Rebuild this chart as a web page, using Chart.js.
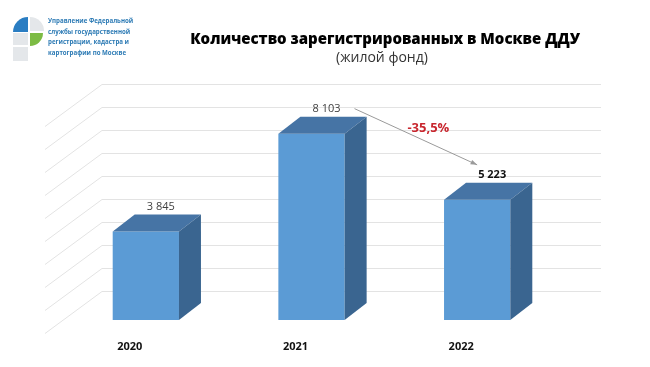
<!DOCTYPE html>
<html>
<head>
<meta charset="utf-8">
<script src="https://cdn.jsdelivr.net/npm/chart.js@4.4.0/dist/chart.umd.min.js"></script>
<style>
  html, body { margin: 0; padding: 0; background: #fff; }
  #wrap { width: 650px; height: 367px; position: relative; }
</style>
</head>
<body>
<div id="wrap"><canvas id="dduChart" width="650" height="367"></canvas></div>
<script>
// data
const years = ['2020', '2021', '2022'];
const contracts = [3845, 8103, 5223];
const gridValues = [1000, 2000, 3000, 4000, 5000, 6000, 7000, 8000, 9000, 10000];
const changeLabel = '-35,5%';

const titleText = 'Количество зарегистрированных в Москве ДДУ';
const subtitleText = '(жилой фонд)';
const logoLines = ['Управление Федеральной', 'службы государственной', 'регистрации, кадастра и', 'картографии по Москве'];

// depth of the 3d boxes
const DX = 22, DY = 17;

function fmt(n) {
    return String(n).replace(/\B(?=(\d{3})+(?!\d))/g, ' ');
}

// back wall grid + floor diagonals
const wallPlugin = {
    id: 'wall',
    beforeDatasetsDraw(chart) {
        const ctx = chart.ctx;
        const y = chart.scales.y;
        ctx.save();
        ctx.strokeStyle = '#e3e3e3';
        ctx.lineWidth = 1;
        gridValues.forEach(v => {
            const py = Math.round(y.getPixelForValue(v) - 6) + 0.5;
            ctx.beginPath();
            ctx.moveTo(102, py);
            ctx.lineTo(601, py);
            ctx.moveTo(102, py);
            ctx.lineTo(45, py + 42);
            ctx.stroke();
        });
        ctx.restore();
    }
};

// top and side faces of each bar, value labels, arrow
const boxPlugin = {
    id: 'box3d',
    afterDatasetsDraw(chart) {
        const ctx = chart.ctx;
        const meta = chart.getDatasetMeta(0);
        const labelPos = [];
        ctx.save();
        meta.data.forEach((bar, i) => {
            const L = bar.x - bar.width / 2;
            const R = bar.x + bar.width / 2;
            const T = bar.y;
            const B = bar.base;
            // top
            ctx.fillStyle = '#4674a5';
            ctx.beginPath();
            ctx.moveTo(L, T);
            ctx.lineTo(L + DX, T - DY);
            ctx.lineTo(R + DX, T - DY);
            ctx.lineTo(R, T);
            ctx.closePath();
            ctx.fill();
            // side
            ctx.fillStyle = '#3a6590';
            ctx.beginPath();
            ctx.moveTo(R, T);
            ctx.lineTo(R + DX, T - DY);
            ctx.lineTo(R + DX, B - DY);
            ctx.lineTo(R, B);
            ctx.closePath();
            ctx.fill();

            // value label
            const lx = bar.x + 15;
            const ly = T - DY - 8;
            labelPos.push([lx, ly]);
            const last = i === meta.data.length - 1;
            ctx.font = (last ? 'bold ' : '') + '11px "Open Sans"';
            ctx.fillStyle = last ? '#111' : '#404040';
            ctx.textAlign = 'center';
            ctx.textBaseline = 'middle';
            ctx.fillText(fmt(contracts[i]), lx, ly);
        });

        // arrow from 2021 to 2022
        const a = labelPos[1], b = labelPos[2];
        const x1 = a[0] + 28, y1 = a[1];
        const x2 = b[0] - 15, y2 = b[1] - 10;
        ctx.strokeStyle = '#9a9a9a';
        ctx.fillStyle = '#9a9a9a';
        ctx.lineWidth = 1;
        ctx.beginPath();
        ctx.moveTo(x1, y1);
        ctx.lineTo(x2, y2);
        ctx.stroke();
        const ang = Math.atan2(y2 - y1, x2 - x1);
        ctx.beginPath();
        ctx.moveTo(x2, y2);
        ctx.lineTo(x2 - 7 * Math.cos(ang - 0.35), y2 - 7 * Math.sin(ang - 0.35));
        ctx.lineTo(x2 - 7 * Math.cos(ang + 0.35), y2 - 7 * Math.sin(ang + 0.35));
        ctx.closePath();
        ctx.fill();

        ctx.font = 'bold 13px "Open Sans"';
        ctx.fillStyle = '#c8262e';
        ctx.textAlign = 'center';
        ctx.textBaseline = 'middle';
        ctx.fillText(changeLabel, (x1 + x2) / 2 + 12.5, (y1 + y2) / 2 - 8.5);
        ctx.restore();
    }
};

// header: logo and titles
const headerPlugin = {
    id: 'header',
    afterDraw(chart) {
        const ctx = chart.ctx;
        ctx.save();
        // logo
        ctx.fillStyle = '#e4e7ea';
        ctx.beginPath();
        ctx.moveTo(30, 31);
        ctx.arc(30, 31, 14, 1.5 * Math.PI, 2 * Math.PI);
        ctx.closePath();
        ctx.fill();
        ctx.fillRect(13, 33, 15, 12);
        ctx.fillRect(13, 47, 15, 14);
        ctx.fillStyle = '#2a7dc2';
        ctx.beginPath();
        ctx.moveTo(28, 32);
        ctx.arc(28, 32, 15, Math.PI, 1.5 * Math.PI);
        ctx.closePath();
        ctx.fill();
        ctx.fillStyle = '#7cbb44';
        ctx.beginPath();
        ctx.moveTo(30, 33);
        ctx.arc(30, 33, 13, 0, 0.5 * Math.PI);
        ctx.closePath();
        ctx.fill();

        // logo caption, squeezed horizontally like the original
        ctx.save();
        ctx.translate(48, 0);
        ctx.scale(0.82, 1);
        ctx.font = 'bold 7.5px "Open Sans"';
        ctx.fillStyle = '#2d7bb5';
        ctx.textAlign = 'left';
        ctx.textBaseline = 'middle';
        logoLines.forEach((t, i) => ctx.fillText(t, 0, 21 + i * 10.5));
        ctx.restore();

        // titles
        ctx.textAlign = 'center';
        ctx.textBaseline = 'middle';
        ctx.font = '800 15px "Open Sans"';
        ctx.fillStyle = '#000';
        ctx.fillText(titleText, 385, 40);
        ctx.font = '14px "Open Sans"';
        ctx.fillStyle = '#333';
        ctx.fillText(subtitleText, 382, 58);
        ctx.restore();
    }
};

new Chart(document.getElementById('dduChart').getContext('2d'), {
    type: 'bar',
    data: {
        labels: years,
        datasets: [{
            data: contracts,
            backgroundColor: '#5b9bd5',
            borderWidth: 0,
            barPercentage: 0.4,
            categoryPercentage: 1.0
        }]
    },
    options: {
        responsive: false,
        animation: false,
        layout: { padding: { left: 63, right: 90, top: 90, bottom: 0 } },
        plugins: {
            legend: { display: false },
            tooltip: { enabled: false }
        },
        scales: {
            x: {
                grid: { display: false, drawTicks: false },
                border: { display: false },
                afterFit(scale) { scale.height = 47; },
                ticks: {
                    padding: 20,
                    labelOffset: -16,
                    color: '#111',
                    font: { family: 'Open Sans', weight: 'bold', size: 11 }
                }
            },
            y: {
                display: false,
                min: 0,
                max: 10000
            }
        }
    },
    plugins: [wallPlugin, boxPlugin, headerPlugin]
});
</script>
</body>
</html>
